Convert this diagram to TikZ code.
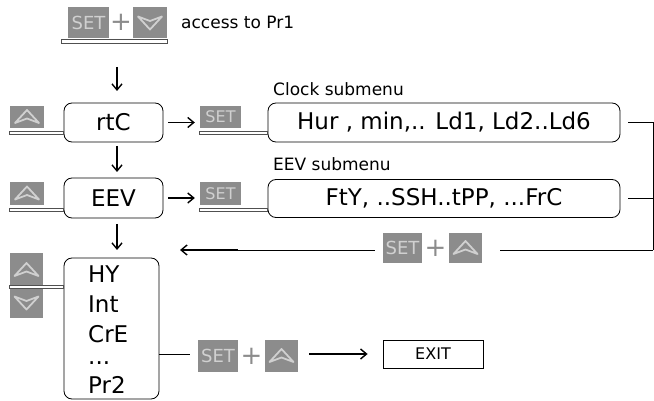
\documentclass[tikz,border=0pt]{standalone}
\usepackage{fontspec}
\setmainfont{DejaVu Sans}
\usetikzlibrary{arrows.meta}
\definecolor{btn}{HTML}{8C8C8C}
\definecolor{glyph}{HTML}{D0D0D0}
\definecolor{barc}{HTML}{505050}
\tikzset{
  big/.style={font=\fontsize{23}{26}\selectfont},
  small/.style={font=\fontsize{17}{20}\selectfont},
  menubox/.style={draw, rounded corners=8pt, line width=0.8pt, inner sep=0pt, big},
  setbtn/.style={fill=btn, inner sep=0pt, text=glyph, font=\fontsize{16}{16}\selectfont},
  upbtn/.style={fill=btn, inner sep=0pt, path picture={
     \draw[glyph, line width=1.8pt, line join=round]
       ([xshift=-12pt,yshift=-6pt]path picture bounding box.center) --
       ([yshift=7pt]path picture bounding box.center) --
       ([xshift=12pt,yshift=-6pt]path picture bounding box.center) --
       ([yshift=-1.5pt]path picture bounding box.center) -- cycle;}},
  downbtn/.style={fill=btn, inner sep=0pt, path picture={
     \draw[glyph, line width=1.8pt, line join=round]
       ([xshift=-12pt,yshift=6pt]path picture bounding box.center) --
       ([yshift=-7pt]path picture bounding box.center) --
       ([xshift=12pt,yshift=6pt]path picture bounding box.center) --
       ([yshift=1.5pt]path picture bounding box.center) -- cycle;}},
  plussign/.style={text=btn, inner sep=0pt, font=\fontsize{26}{26}\selectfont},
  bar/.style={draw=barc, fill=white, line width=0.7pt},
  arr/.style={-{Straight Barb[length=6pt,width=10pt]}, line width=1.4pt},
  conn/.style={line width=0.8pt}
}
\begin{document}
\begin{tikzpicture}[x=1pt,y=-1pt]
\useasboundingbox (0,0) rectangle (654,401);
% top
\node[setbtn, minimum width=41pt, minimum height=31pt, font=\fontsize{18}{18}\selectfont] (topset) at (88.5,22.5) {SET};
\node[plussign] (topplus) at (121,22) {+};
\node[downbtn, minimum width=34pt, minimum height=31pt] (topdown) at (150,22.5) {};
\draw[bar] ([xshift=-6pt,yshift=-1pt]topset.south west) rectangle ([yshift=-5pt]topdown.south east);
\node[small, anchor=west, inner sep=0pt] (access) at (181,22) {access to Pr1};
\coordinate (a1s) at (117,67);
\coordinate (a1e) at (117,91);
\draw[arr] (a1s) -- (a1e);
% rtC row
\node[menubox, minimum width=99pt, minimum height=39pt] (rtc) at (113.5,122.5) {rtC};
\node[upbtn, minimum width=34pt, minimum height=22pt] (up1) at (27,117) {};
\draw[bar] ([yshift=-3pt]up1.south west) rectangle ([yshift=-6pt]up1.south west -| rtc.west);
\node[setbtn, minimum width=41pt, minimum height=22pt] (set1) at (220.5,117) {SET};
\node[menubox, minimum width=352pt, minimum height=39pt] (clock) at (444,122.5) {Hur , min,.. Ld1, Ld2..Ld6};
\draw[bar] ([yshift=-3pt]set1.south west) rectangle ([yshift=-6pt]set1.south west -| clock.west);
\node[small, anchor=west, inner sep=0pt] (clocklbl) at (273,89) {Clock submenu};
\draw[arr, shorten <=5pt, shorten >=5pt] (rtc.east) -- (set1.west |- rtc.east);
% EEV row
\node[menubox, minimum width=99pt, minimum height=40pt] (eev) at (113.5,198) {EEV};
\node[upbtn, minimum width=34pt, minimum height=23pt] (up2) at (27,193.5) {};
\draw[bar] ([yshift=-3pt]up2.south west) rectangle ([yshift=-6pt]up2.south west -| eev.west);
\node[setbtn, minimum width=41pt, minimum height=23pt] (set2) at (220.5,193.5) {SET};
\node[menubox, minimum width=352pt, minimum height=38pt] (eevsub) at (444,198.5) {FtY, ..SSH..tPP, ...FrC};
\draw[bar] ([yshift=-3pt]set2.south west) rectangle ([yshift=-6pt]set2.south west -| eevsub.west);
\node[small, anchor=west, inner sep=0pt] (eevlbl) at (273,164) {EEV submenu};
\draw[arr, shorten <=5pt, shorten >=5pt] (eev.east) -- (set2.west |- eev.east);
\coordinate (a2s) at (117,146);
\coordinate (a2e) at (117,172);
\draw[arr] (a2s) -- (a2e);
\coordinate (a3s) at (117,224);
\coordinate (a3e) at (117,250);
\draw[arr] (a3s) -- (a3e);
% return path
\coordinate (rc) at (653,250);
\node[setbtn, minimum width=39pt, minimum height=30pt, font=\fontsize{18}{18}\selectfont] (retset) at (402.5,248) {SET};
\node[plussign] (retplus) at (435.5,248) {+};
\node[upbtn, minimum width=33pt, minimum height=30pt] (retup) at (465.5,248) {};
\draw[conn] ([xshift=8pt]clock.east) -| (rc);
\draw[conn] ([xshift=8pt]eevsub.east) -- (eevsub.east -| rc);
\draw[conn] (rc) -- ([xshift=18pt]retup.east |- rc);
\coordinate (retend) at (180,250);
\coordinate (retmid) at (238,250);
\draw[conn] ([xshift=-8pt]retset.west |- rc) -- (retmid);
\draw[arr] (retmid) -- (retend);
% bottom list
\node[draw, rounded corners=8pt, line width=0.8pt, minimum width=95pt, minimum height=141pt, inner sep=0pt] (list) at (111.5,328.5) {};
\node[big, anchor=base west, inner sep=0pt] (l1) at (88,282) {HY};
\node[big, anchor=base west, inner sep=0pt] (l2) at (88,312) {Int};
\node[big, anchor=base west, inner sep=0pt] (l3) at (88,342) {CrE};
\node[big, anchor=base west, inner sep=0pt] (l4) at (88,364) {...};
\node[big, anchor=base west, inner sep=0pt] (l5) at (88,393) {Pr2};
\node[upbtn, minimum width=33pt, minimum height=34pt] (upL) at (26.5,270) {};
\node[downbtn, minimum width=33pt, minimum height=31pt] (downL) at (26.5,302.5) {};
\draw[bar] ([yshift=1.5pt]downL.north west) rectangle ([yshift=-1.5pt]downL.north west -| list.west);
% exit row
\node[setbtn, minimum width=40pt, minimum height=32pt, font=\fontsize{18}{18}\selectfont] (exset) at (218,356) {SET};
\node[plussign] (explus) at (251.5,356) {+};
\node[upbtn, minimum width=33pt, minimum height=32pt] (exup) at (281.5,356) {};
\node[draw, line width=0.8pt, minimum width=100pt, minimum height=28pt, inner sep=0pt, font=\fontsize{16}{18}\selectfont] (exit) at (433,354) {EXIT};
\draw[conn] (list.east |- exit.west) -- ([xshift=-8pt]exset.west |- exit.west);
\draw[arr] ([xshift=11pt]exup.east |- exit.west) -- ([xshift=-15pt]exit.west);
\end{tikzpicture}
\end{document}
